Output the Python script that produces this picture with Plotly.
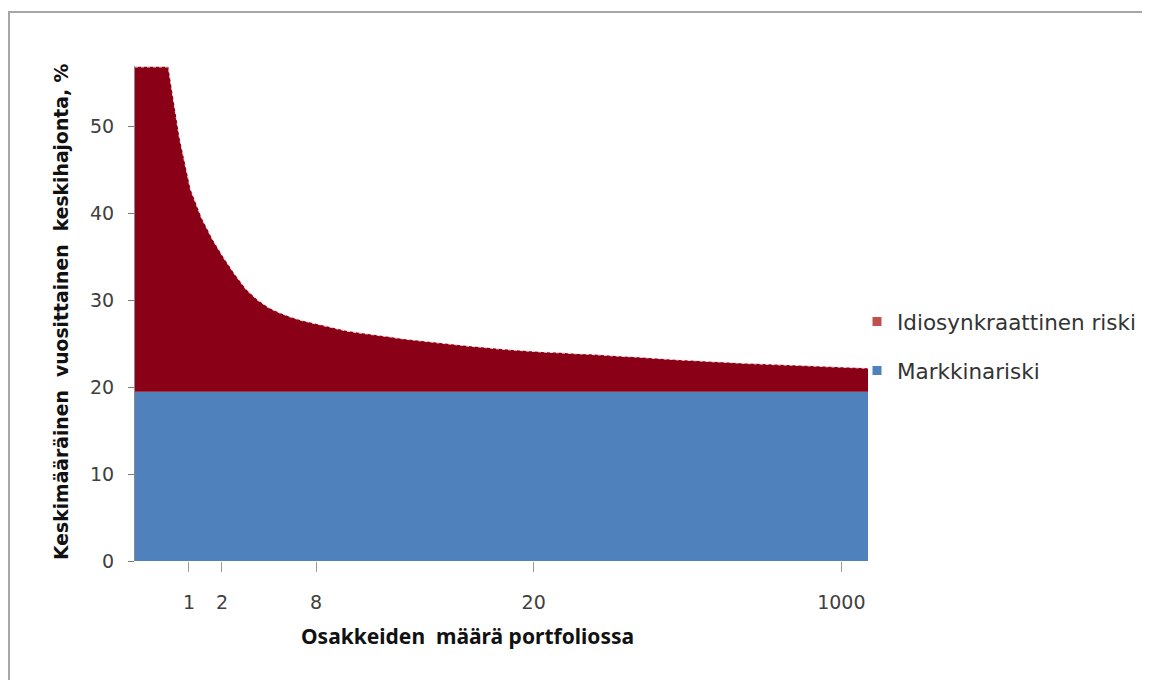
import plotly.graph_objects as go

# Sample positions along the (non-linear) horizontal axis
portfolio_step = list(range(67))

# Idiosyncratic risk (stacked on top of market risk), %
idiosyncratic_risk = [
    37.4, 37.4, 37.4, 37.4, 29.3, 23.3, 20.0, 17.5, 15.4, 13.5,
    11.8, 10.6, 9.7, 9.1, 8.6, 8.2, 7.9, 7.6, 7.25, 7.0,
    6.8, 6.65, 6.5, 6.3, 6.1, 5.95, 5.8, 5.65, 5.5, 5.4,
    5.25, 5.15, 5.0, 4.9, 4.8, 4.7, 4.6, 4.55, 4.5, 4.4,
    4.35, 4.3, 4.2, 4.15, 4.05, 4.0, 3.9, 3.8, 3.75, 3.65,
    3.6, 3.5, 3.45, 3.4, 3.3, 3.25, 3.2, 3.15, 3.1, 3.05,
    3.0, 2.95, 2.9, 2.85, 2.8, 2.75, 2.7,
]

# Market risk, %
market_risk = [
    19.5, 19.5, 19.5, 19.5, 19.5, 19.5, 19.5, 19.5, 19.5, 19.5,
    19.5, 19.5, 19.5, 19.5, 19.5, 19.5, 19.5, 19.5, 19.5, 19.5,
    19.5, 19.5, 19.5, 19.5, 19.5, 19.5, 19.5, 19.5, 19.5, 19.5,
    19.5, 19.5, 19.5, 19.5, 19.5, 19.5, 19.5, 19.5, 19.5, 19.5,
    19.5, 19.5, 19.5, 19.5, 19.5, 19.5, 19.5, 19.5, 19.5, 19.5,
    19.5, 19.5, 19.5, 19.5, 19.5, 19.5, 19.5, 19.5, 19.5, 19.5,
    19.5, 19.5, 19.5, 19.5, 19.5, 19.5, 19.5,
]

# x tick labels (number of stocks) and where they sit along the axis
tick_labels = ["1", "2", "8", "20", "1000"]
tick_steps = [4.86, 7.83, 16.3, 35.9, 63.6]

series_names = ["Idiosynkraattinen riski", "Markkinariski"]

RED = "#8a0016"
BLUE = "#4f81bd"
LEGEND_RED = "#c0504d"
FONT = "DejaVu Sans"
TXT = "#404040"

# the page body has an 8px margin; figure is sized so it ends at the window edge
W, H = 1142, 672
ML, MT, PW, PH = 127, 58, 733, 495

fig = go.Figure()

fig.add_trace(go.Scatter(
    x=portfolio_step, y=market_risk, stackgroup="one", mode="lines",
    line=dict(width=0, color=BLUE), fillcolor=BLUE,
    name=series_names[1], showlegend=False, hoverinfo="skip",
))
fig.add_trace(go.Scatter(
    x=portfolio_step, y=idiosyncratic_risk, stackgroup="one", mode="lines",
    line=dict(width=1.2, color="rgba(255,225,225,0.95)", dash="dot"),
    fillcolor=RED, name=series_names[0], showlegend=False, hoverinfo="skip",
))

# legend entries
fig.add_trace(go.Scatter(
    x=[None], y=[None], mode="markers", name=series_names[0],
    marker=dict(symbol="square", size=9, color=LEGEND_RED),
    legendgroup="a",
))
fig.add_trace(go.Scatter(
    x=[None], y=[None], mode="markers", name=series_names[1],
    marker=dict(symbol="square", size=9, color=BLUE),
    legendgroup="b",
))

fig.update_layout(
    width=W, height=H,
    margin=dict(l=ML, r=W - ML - PW, t=MT, b=H - MT - PH, autoexpand=False),
    paper_bgcolor="white", plot_bgcolor="white",
    font=dict(family=FONT, color=TXT),
    showlegend=True,
    legend=dict(
        x=0.985, y=0.525, xanchor="left", yanchor="top",
        font=dict(size=21.5, color="#333333", family=FONT),
        tracegroupgap=18, traceorder="grouped",
        bgcolor="rgba(0,0,0,0)",
    ),
)

fig.update_xaxes(
    range=[0, 66], showgrid=False, zeroline=False, showline=False,
    tickmode="array", tickvals=tick_steps, ticktext=tick_labels,
    ticks="outside", ticklen=10, tickcolor="#9a9a9a", tickwidth=1,
    ticklabelstandoff=14,
    tickfont=dict(size=19, color=TXT, family=FONT),
)
fig.update_yaxes(
    range=[0, 57], showgrid=False, zeroline=False,
    showline=True, linecolor="#8a8a8a", linewidth=1,
    tickvals=[0, 10, 20, 30, 40, 50],
    ticks="outside", ticklen=6, tickcolor="#7a7a7a",
    ticklabelstandoff=10,
    tickfont=dict(size=19, color=TXT, family=FONT),
)

# axis titles
fig.add_annotation(
    text="Keskimääräinen  vuosittainen  keskihajonta, %",
    xref="paper", yref="paper", x=-0.101, y=0.505,
    xanchor="center", yanchor="middle", textangle=-90, showarrow=False,
    font=dict(size=18.8, family="DejaVu Sans", color="#111111", weight="bold"),
)
fig.add_annotation(
    text="Osakkeiden  määrä portfoliossa",
    xref="paper", yref="paper", x=0.453, y=-0.1515,
    xanchor="center", yanchor="middle", showarrow=False,
    font=dict(size=21, family="Noto Sans", color="#111111", weight="bold"),
)

# outer frame (top and left edges visible; right/bottom run off the page)
fig.add_shape(
    type="rect", xref="paper", yref="paper",
    x0=(1 - ML) / PW, x1=(W + 20 - ML) / PW,
    y0=(MT + PH - (H + 20)) / PH, y1=(MT + PH - 4) / PH,
    line=dict(color="#a6a6a6", width=2), fillcolor="rgba(0,0,0,0)",
    layer="below",
)

fig.write_html("out.html")
